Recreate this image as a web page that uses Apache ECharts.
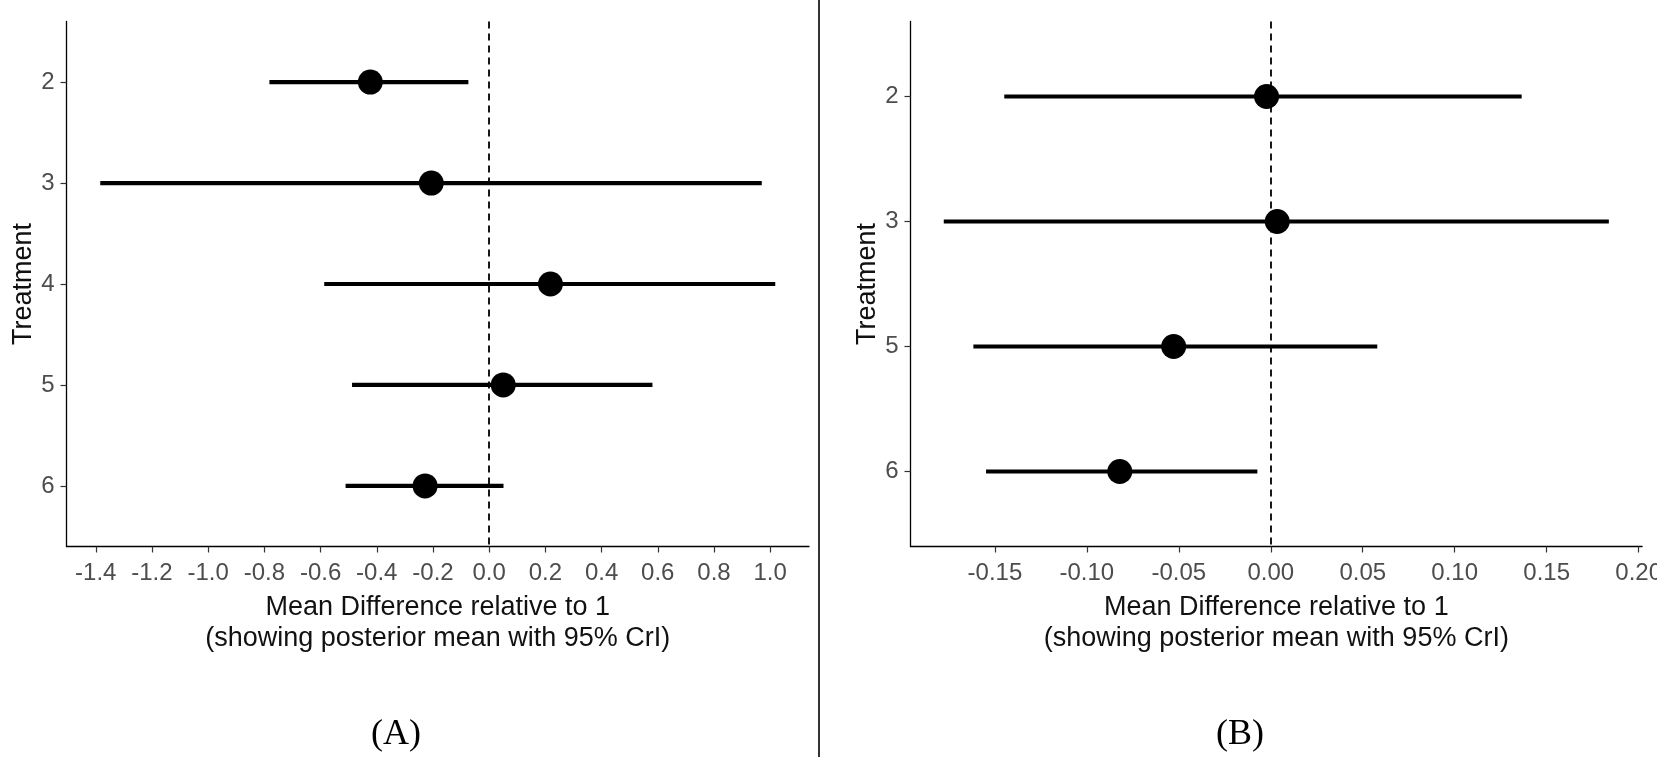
<!DOCTYPE html>
<html>
<head>
<meta charset="utf-8">
<script src="https://cdn.jsdelivr.net/npm/echarts@6/dist/echarts.min.js"></script>
<style>
  html, body { margin: 0; padding: 0; background: #fff; }
  #chart { width: 1665px; height: 763px; }
</style>
</head>
<body>
<div id="chart"></div>
<script>
// Panel A: treatments vs 1
const treatmentsA = ['2', '3', '4', '5', '6'];
const meanA = [-0.423, -0.206, 0.218, 0.050, -0.228];
const lowA  = [-0.782, -1.384, -0.587, -0.488, -0.511];
const highA = [-0.074, 0.970, 1.018, 0.581, 0.051];
const ticksA = [-1.4, -1.2, -1.0, -0.8, -0.6, -0.4, -0.2, 0.0, 0.2, 0.4, 0.6, 0.8, 1.0];

// Panel B
const treatmentsB = ['2', '3', '5', '6'];
const meanB = [-0.0023, 0.0035, -0.0528, -0.0821];
const lowB  = [-0.1449, -0.1778, -0.1617, -0.1548];
const highB = [0.1364, 0.1838, 0.0579, -0.0073];
const ticksB = [-0.15, -0.10, -0.05, 0.00, 0.05, 0.10, 0.15, 0.20];

const FONT = "'Liberation Sans', Arial, sans-serif";
const xTitle = 'Mean Difference relative to 1\n(showing posterior mean with 95% CrI)';

// ggplot style 5% expansion
function expand(lo, hi) {
    const mn = Math.min(...lo), mx = Math.max(...hi);
    const pad = (mx - mn) * 0.05;
    return [mn - pad, mx + pad];
}

function xAxisFor(idx, lo, hi, ticks, digits) {
    const r = expand(lo, hi);
    return {
        type: 'value', gridIndex: idx, min: r[0], max: r[1],
        splitLine: { show: false },
        axisLine: { onZero: false, lineStyle: { color: '#000', width: 1.3 } },
        axisTick: { customValues: ticks, length: 6, lineStyle: { color: '#333', width: 1.2 } },
        axisLabel: {
            customValues: ticks, margin: 15, color: '#4d4d4d',
            fontFamily: FONT, fontSize: 24,
            formatter: v => v.toFixed(digits)
        },
        name: xTitle, nameLocation: 'middle', nameGap: 46,
        nameTextStyle: { fontFamily: FONT, fontSize: 27, color: '#111', lineHeight: 31 }
    };
}

function yAxisFor(idx, cats) {
    const pos = cats.map((c, i) => i + 1);
    return {
        type: 'value', gridIndex: idx, inverse: true,
        min: 0.4, max: cats.length + 0.6,
        splitLine: { show: false },
        axisLine: { onZero: false, lineStyle: { color: '#000', width: 1.3 } },
        axisTick: { customValues: pos, length: 6, lineStyle: { color: '#333', width: 1.2 } },
        axisLabel: {
            customValues: pos, margin: 12, color: '#4d4d4d',
            fontFamily: FONT, fontSize: 24,
            formatter: v => cats[Math.round(v) - 1]
        },
        name: 'Treatment', nameLocation: 'middle', nameGap: 28,
        nameTextStyle: { fontFamily: FONT, fontSize: 27, color: '#111' }
    };
}

function intervalSeries(idx, lo, hi) {
    return {
        type: 'custom', xAxisIndex: idx, yAxisIndex: idx,
        data: lo.map((l, i) => [l, hi[i], i + 1]),
        renderItem: (params, api) => {
            const a = api.coord([api.value(0), api.value(2)]);
            const b = api.coord([api.value(1), api.value(2)]);
            return {
                type: 'line',
                shape: { x1: a[0], y1: a[1], x2: b[0], y2: b[1] },
                style: { stroke: '#000', lineWidth: 4.2 }
            };
        },
        silent: true, z: 2
    };
}

function pointSeries(idx, means) {
    return {
        type: 'scatter', xAxisIndex: idx, yAxisIndex: idx,
        data: means.map((m, i) => [m, i + 1]),
        symbol: 'circle', symbolSize: 25,
        itemStyle: { color: '#000', opacity: 1 },
        z: 3,
        markLine: {
            silent: true, symbol: 'none', label: { show: false },
            lineStyle: { color: '#000', type: [7, 5], width: 1.8, opacity: 1 },
            data: [{ xAxis: 0 }]
        }
    };
}

const chart = echarts.init(document.getElementById('chart'));
chart.setOption({
    animation: false,
    backgroundColor: '#fff',
    grid: [
        { left: 66.5, top: 21.5, width: 742.5, height: 525 },
        { left: 910.5, top: 21.5, width: 734.5, height: 525 }
    ],
    xAxis: [
        xAxisFor(0, lowA, highA, ticksA, 1),
        xAxisFor(1, lowB, highB, ticksB, 2)
    ],
    yAxis: [
        yAxisFor(0, treatmentsA),
        yAxisFor(1, treatmentsB)
    ],
    series: [
        intervalSeries(0, lowA, highA),
        pointSeries(0, meanA),
        intervalSeries(1, lowB, highB),
        pointSeries(1, meanB)
    ],
    graphic: [
        // divider between panels
        { type: 'line', shape: { x1: 819, y1: 0, x2: 819, y2: 757 },
          style: { stroke: '#000', lineWidth: 1.6 } },
        // right edge of the original image cuts the last tick label
        { type: 'rect', shape: { x: 1657, y: 555, width: 10, height: 40 },
          style: { fill: '#fff' }, z: 100 },
        { type: 'text', x: 396, y: 735,
          style: { text: '(A)', font: "36px 'Liberation Serif', 'Times New Roman', serif",
                   fill: '#000', align: 'center', verticalAlign: 'middle' } },
        { type: 'text', x: 1240, y: 735,
          style: { text: '(B)', font: "36px 'Liberation Serif', 'Times New Roman', serif",
                   fill: '#000', align: 'center', verticalAlign: 'middle' } }
    ]
});
</script>
</body>
</html>
